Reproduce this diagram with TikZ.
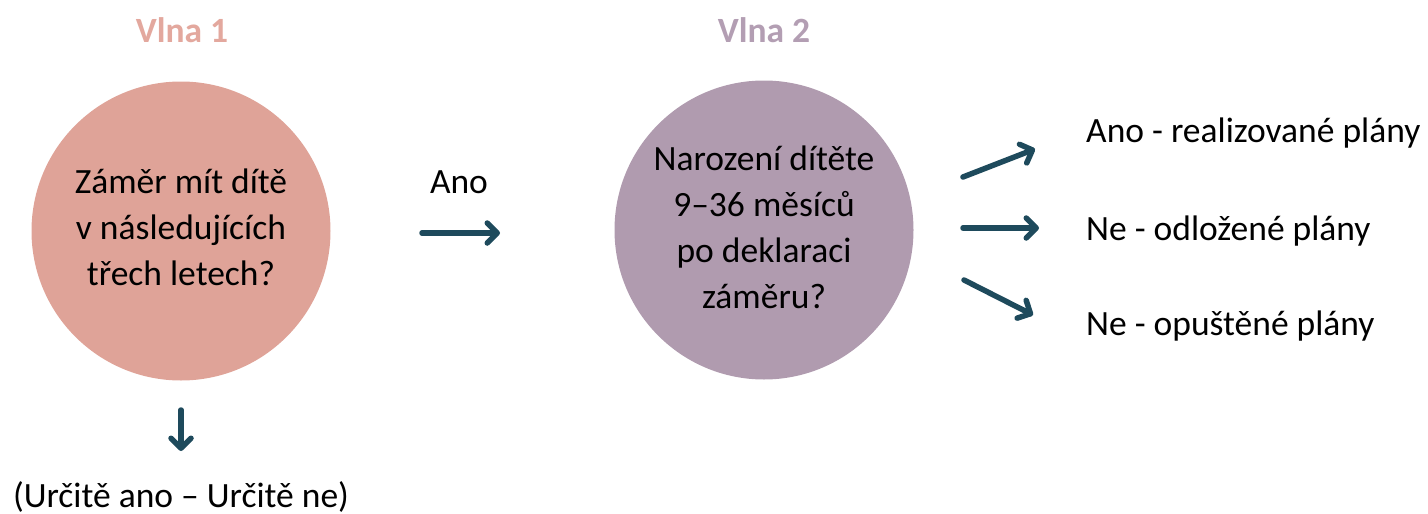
\documentclass[tikz,border=0pt]{standalone}
\usepackage{fontspec}
\setmainfont{Carlito}
\usetikzlibrary{arrows.meta}
\definecolor{pinkc}{HTML}{DFA398}
\definecolor{pinkt}{HTML}{E3A89E}
\definecolor{mauvec}{HTML}{B09BAF}
\definecolor{mauvet}{HTML}{B39EB3}
\definecolor{arrowc}{HTML}{1E4A5C}
\begin{document}
\begin{tikzpicture}[x=1pt,y=-1pt,
  txt/.style={font=\fontsize{35.5}{46}\selectfont, text=black, inner sep=0pt, align=center},
  head/.style={font=\fontsize{35.5}{46}\selectfont\bfseries, inner sep=0pt},
  bubble/.style={circle, minimum size=299pt, inner sep=0pt},
  conn/.style={draw=arrowc, line width=5.5pt, line cap=round,
    -{Straight Barb[length=10pt,width=20pt,line cap=round,line join=round]}}]
\useasboundingbox (0,0) rectangle (1428,514);
% headings
\node[head, text=pinkt] (v1) at (182,30) {Vlna 1};
\node[head, text=mauvet] (v2) at (764,30) {Vlna 2};
% circles
\node[bubble, fill=pinkc] (c1) at (181,231) {};
\node[bubble, fill=mauvec] (c2) at (764,230) {};
\node[txt] (t1) at (181,227) {Záměr mít dítě\\ v následujících\\ třech letech?};
\node[txt] (t2) at (764,227) {Narození dítěte\\ 9–36 měsíců\\ po deklaraci\\ záměru?};
% Ano arrow
\node[txt, anchor=base] (ano) at (459,193) {Ano};
\coordinate (a1s) at (422,233);
\coordinate (a1e) at (500,233);
\draw[conn] (a1s) -- (a1e);
% down arrow
\coordinate (d1s) at (181,410);
\coordinate (d1e) at (181,451);
\draw[conn] (d1s) -- (d1e);
\node[txt, anchor=base] (scale) at (181,507) {(Určitě ano – Určitě ne)};
% outcomes
\node[txt, anchor=base west] (o1) at (1086,142) {Ano - realizované plány};
\node[txt, anchor=base west] (o2) at (1086,240) {Ne - odložené plány};
\node[txt, anchor=base west] (o3) at (1086,335) {Ne - opuštěné plány};
\coordinate (r1s) at (963,177);
\coordinate (r1e) at (1035,149);
\coordinate (r2s) at (963,228);
\coordinate (r2e) at (1039,228);
\coordinate (r3s) at (964,280);
\coordinate (r3e) at (1033,315);
\draw[conn] (r1s) -- (r1e);
\draw[conn] (r2s) -- (r2e);
\draw[conn] (r3s) -- (r3e);
\end{tikzpicture}
\end{document}
